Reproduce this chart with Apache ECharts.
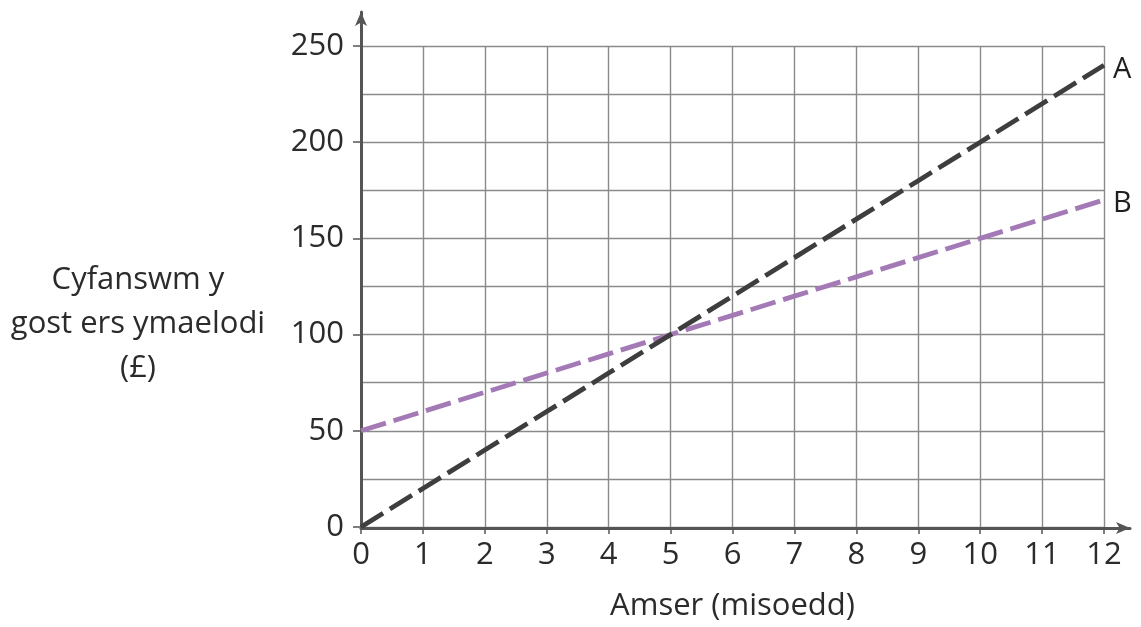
<!DOCTYPE html>
<html>
<head>
<meta charset="utf-8">
<script src="https://cdn.jsdelivr.net/npm/echarts@6/dist/echarts.min.js"></script>
<style>
html,body{margin:0;padding:0;background:#fff;}
#c{width:1141px;height:627px;}
</style>
</head>
<body>
<div id="c"></div>
<script>
var months = [0,1,2,3,4,5,6,7,8,9,10,11,12];
var costA = [0,20,40,60,80,100,120,140,160,180,200,220,240];
var costB = [50,60,70,80,90,100,110,120,130,140,150,160,170];
var seriesNames = ['A','B'];
var xTitle = 'Amser (misoedd)';
var yTitle = 'Cyfanswm y\ngost ers ymaelodi\n(£)';

var font = "'Open Sans', 'Noto Sans', sans-serif";
var chart = echarts.init(document.getElementById('c'));
function pairs(v){ return months.map(function(m,i){ return [m, v[i]]; }); }

var option = {
  animation: false,
  backgroundColor: '#fff',
  grid: [
    {left: 361, right: 37, top: 46, bottom: 99},
    {left: 361, right: 11, top: 12, bottom: 99}
  ],
  xAxis: [
    {
      gridIndex: 0, type: 'value', min: 0, max: 12, interval: 1,
      name: xTitle, nameLocation: 'middle', nameGap: 64,
      nameTextStyle: {fontFamily: font, fontSize: 31, color: '#2b2b2b'},
      axisLine: {show: false},
      axisTick: {show: true, length: 7, lineStyle: {color: '#555', width: 1.5}},
      axisLabel: {fontFamily: font, fontSize: 31, color: '#2b2b2b', margin: 13},
      splitLine: {show: true, lineStyle: {color: '#8a8a8a', width: 1.4}}
    },
    {
      gridIndex: 1, type: 'value', min: 0, max: 1,
      axisLine: {show: true, symbol: ['none','arrow'], symbolSize: [9, 14], lineStyle: {color: '#555', width: 3}},
      axisTick: {show: false}, axisLabel: {show: false}, splitLine: {show: false}
    }
  ],
  yAxis: [
    {
      gridIndex: 0, type: 'value', min: 0, max: 250, interval: 50,
      axisLine: {show: false},
      axisTick: {show: true, length: 8, lineStyle: {color: '#555', width: 1.5}},
      axisLabel: {fontFamily: font, fontSize: 31, color: '#2b2b2b', margin: 17},
      splitLine: {show: true, lineStyle: {color: '#8a8a8a', width: 1.4}},
      minorTick: {show: false, splitNumber: 2},
      minorSplitLine: {show: true, lineStyle: {color: '#8a8a8a', width: 1.4}}
    },
    {
      gridIndex: 1, type: 'value', min: 0, max: 1,
      axisLine: {show: true, symbol: ['none','arrow'], symbolSize: [9, 14], lineStyle: {color: '#555', width: 3}},
      axisTick: {show: false}, axisLabel: {show: false}, splitLine: {show: false}
    }
  ],
  graphic: [
    {
      type: 'text', x: 138, y: 324,
      style: {
        text: yTitle, align: 'center', verticalAlign: 'middle',
        font: "31px " + font, fill: '#2b2b2b', lineHeight: 44
      }
    }
  ],
  series: [
    {
      name: seriesNames[0], type: 'line', xAxisIndex: 0, yAxisIndex: 0,
      data: pairs(costA), showSymbol: false, symbol: 'none', z: 3,
      lineStyle: {color: '#3e3e3e', width: 4.8, type: [26, 8]},
      endLabel: {show: true, formatter: seriesNames[0], fontFamily: font, fontSize: 29, color: '#1f1f1f', distance: 9, offset: [0, 4]}
    },
    {
      name: seriesNames[1], type: 'line', xAxisIndex: 0, yAxisIndex: 0,
      data: pairs(costB), showSymbol: false, symbol: 'none', z: 2,
      lineStyle: {color: '#a47ab6', width: 4.8, type: [26, 8]},
      endLabel: {show: true, formatter: seriesNames[1], fontFamily: font, fontSize: 29, color: '#1f1f1f', distance: 9, offset: [0, 4]}
    }
  ]
};
chart.setOption(option);
</script>
</body>
</html>
